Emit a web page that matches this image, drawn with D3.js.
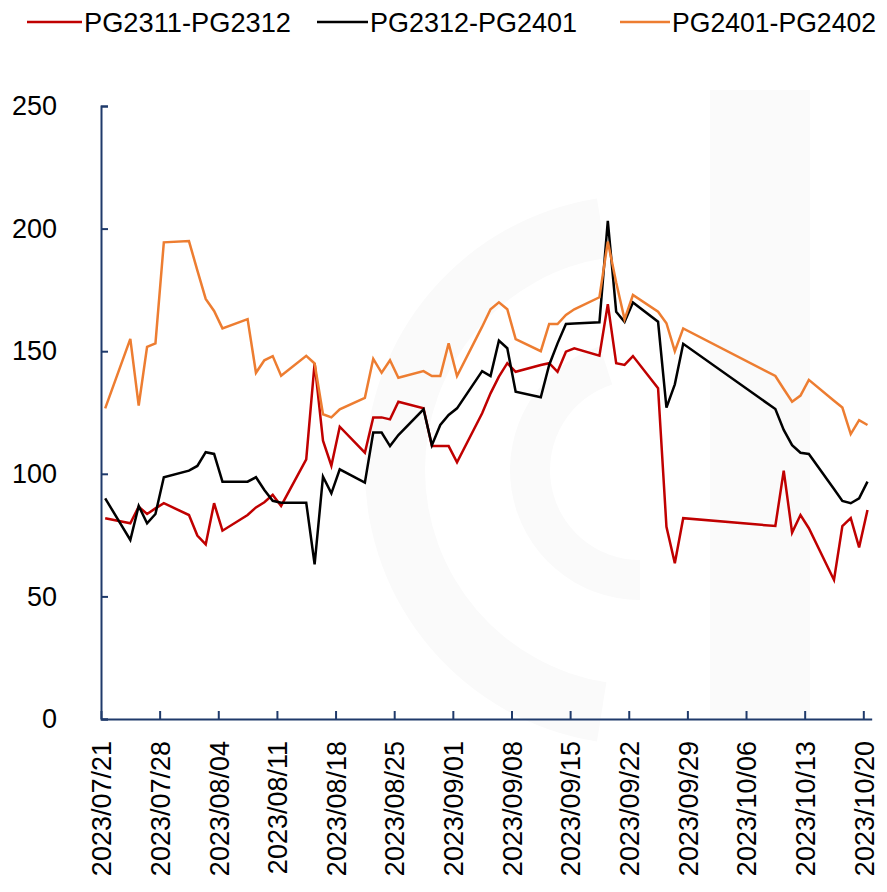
<!DOCTYPE html>
<html>
<head>
<meta charset="utf-8">
<script src="https://cdn.jsdelivr.net/npm/d3@7"></script>
<style>
  html, body { margin: 0; padding: 0; background: #fff; }
  svg { display: block; }
  text { font-family: "Liberation Sans", Arial, sans-serif; }
</style>
</head>
<body>
<svg id="chart" width="887" height="892"></svg>
<script>
const dates = ["2023-07-21","2023-07-24","2023-07-25","2023-07-26","2023-07-27","2023-07-28",
"2023-07-31","2023-08-01","2023-08-02","2023-08-03","2023-08-04",
"2023-08-07","2023-08-08","2023-08-09","2023-08-10","2023-08-11",
"2023-08-14","2023-08-15","2023-08-16","2023-08-17","2023-08-18",
"2023-08-21","2023-08-22","2023-08-23","2023-08-24","2023-08-25",
"2023-08-28","2023-08-29","2023-08-30","2023-08-31","2023-09-01",
"2023-09-04","2023-09-05","2023-09-06","2023-09-07","2023-09-08",
"2023-09-11","2023-09-12","2023-09-13","2023-09-14","2023-09-15",
"2023-09-18","2023-09-19","2023-09-20","2023-09-21","2023-09-22",
"2023-09-25","2023-09-26","2023-09-27","2023-09-28",
"2023-10-09","2023-10-10","2023-10-11","2023-10-12","2023-10-13",
"2023-10-16","2023-10-17","2023-10-18","2023-10-19","2023-10-20"];

const pg2311_2312 = [81.9,79.8,86.6,83.6,85.9,88.0,
83.2,74.8,71.2,88.0,76.8,
83.2,86.3,88.4,91.4,86.9,
105.9,145.1,113.5,103.3,119.2,
108.6,123.0,123.0,122.2,129.4,
126.7,111.3,111.3,111.3,104.7,
124.7,132.8,139.6,145.1,141.6,
144.4,145.1,141.6,149.8,151.2,
148.2,169.2,145.1,144.4,148.0,
134.9,78.4,63.5,81.9,
78.7,101.3,76.0,83.2,77.8,
56.7,78.7,81.9,70.0,85.2];

const pg2312_2401 = [90.0,73.0,86.9,79.8,83.6,98.6,
101.3,103.2,108.8,108.1,96.8,
96.8,98.6,93.4,89.0,88.2,
88.2,63.1,98.8,92.0,101.8,
96.4,116.8,116.8,111.3,115.8,
126.3,111.7,119.9,124.0,126.7,
141.9,139.9,154.3,151.2,133.5,
131.2,144.4,153.2,161.1,161.3,
161.8,203.2,166.1,162.0,169.9,
162.0,127.0,136.5,153.0,
126.4,117.9,111.7,108.6,108.1,
93.8,88.9,88.0,90.0,96.8];

const pg2401_2402 = [126.7,155.0,127.8,151.8,153.2,194.4,
194.9,183.0,171.3,166.4,159.3,
163.1,141.2,146.3,148.0,140.0,
148.1,145.0,124.3,123.0,126.3,
131.0,146.9,141.2,146.3,139.2,
141.9,139.9,139.9,153.2,139.9,
160.0,167.1,169.9,167.1,154.9,
150.0,161.1,161.1,164.8,167.1,
172.0,194.7,178.0,163.0,172.9,
166.1,161.4,150.0,159.3,
139.9,134.6,129.4,131.9,138.3,
129.8,127.0,116.2,121.9,119.9];

const seriesNames = ["PG2311-PG2312","PG2312-PG2401","PG2401-PG2402"];
const seriesColors = ["#C00000","#000000","#ED7D31"];
const xTickLabels = ["2023/07/21","2023/07/28","2023/08/04","2023/08/11","2023/08/18","2023/08/25",
"2023/09/01","2023/09/08","2023/09/15","2023/09/22","2023/09/29","2023/10/06","2023/10/13","2023/10/20"];
const yTicks = [0,50,100,150,200,250];

const svg = d3.select("#chart");
const parse = d3.timeParse("%Y-%m-%d");
const parseTick = d3.timeParse("%Y/%m/%d");

const x0 = 101, dayPx = 8.377;
const x = d3.scaleTime()
  .domain([parse("2023-07-21"), parse("2023-10-21")])
  .range([x0, x0 + 92 * dayPx]);
const y = d3.scaleLinear().domain([0, 250]).range([719, 106]);

// faint watermark
const wm = svg.append("g").attr("fill", "none");
wm.append("rect").attr("x", 710).attr("y", 90).attr("width", 100).attr("height", 630).attr("fill", "#fafafa");
wm.append("path")
  .attr("d", d3.arc()({innerRadius: 215, outerRadius: 275, startAngle: -Math.PI * 0.95, endAngle: -Math.PI * 0.05}))
  .attr("transform", "translate(640,470)")
  .attr("fill", "#fafafa");
wm.append("path")
  .attr("d", d3.arc()({innerRadius: 90, outerRadius: 130, startAngle: -Math.PI * 1.0, endAngle: -Math.PI * 0.1}))
  .attr("transform", "translate(640,470)")
  .attr("fill", "#fafafa");

const axisColor = "#1F3A6B";

// Y axis
const yAxis = d3.axisLeft(y).tickValues(yTicks).tickSize(-7).tickPadding(44).tickFormat(d3.format("d"));
const gy = svg.append("g").attr("transform", `translate(${x0},0)`).call(yAxis);
gy.select(".domain").attr("stroke", axisColor).attr("stroke-width", 2);
gy.selectAll(".tick line").attr("stroke", axisColor).attr("stroke-width", 2);
gy.selectAll(".tick text").attr("fill", "#000").attr("font-size", 27)
  .attr("font-family", "Liberation Sans, Arial, sans-serif");

// X axis
const tickDates = xTickLabels.map(parseTick);
const xAxis = d3.axisBottom(x).tickValues(tickDates).tickSize(-8).tickSizeOuter(0)
  .tickFormat((d, i) => xTickLabels[i]);
const gx = svg.append("g").attr("transform", "translate(0,719)").call(xAxis);
gx.select(".domain").attr("stroke", axisColor).attr("stroke-width", 2);
gx.selectAll(".tick line").attr("stroke", axisColor).attr("stroke-width", 2);
gx.selectAll(".tick text")
  .attr("fill", "#000").attr("font-size", 27)
  .attr("font-family", "Liberation Sans, Arial, sans-serif")
  .attr("text-anchor", "end")
  .attr("transform", "rotate(-90)")
  .attr("x", -22).attr("y", 0).attr("dy", "0.36em");

// Lines
const seriesData = [pg2311_2312, pg2312_2401, pg2401_2402];
const line = d3.line()
  .x((d, i) => x(d3.timeHour.offset(parse(dates[i]), 12)))
  .y(d => y(d));
const lineG = svg.append("g");
seriesData.forEach((vals, k) => {
  lineG.append("path")
    .attr("d", line(vals))
    .attr("fill", "none")
    .attr("stroke", seriesColors[k])
    .attr("stroke-width", 2.5)
    .attr("stroke-linejoin", "miter");
});

// Legend
const legendItems = [
  {x1: 27, x2: 82, tx: 84, tw: 207},
  {x1: 317, x2: 368, tx: 370, tw: 207},
  {x1: 620, x2: 670, tx: 672, tw: 204}
];
const lg = svg.append("g");
legendItems.forEach((it, k) => {
  lg.append("line").attr("x1", it.x1).attr("x2", it.x2).attr("y1", 22).attr("y2", 22)
    .attr("stroke", seriesColors[k]).attr("stroke-width", 2.5);
  lg.append("text").attr("x", it.tx).attr("y", 32)
    .attr("font-size", 28)
    .attr("textLength", it.tw).attr("lengthAdjust", "spacingAndGlyphs")
    .attr("fill", "#000")
    .text(seriesNames[k]);
});
</script>
</body>
</html>
